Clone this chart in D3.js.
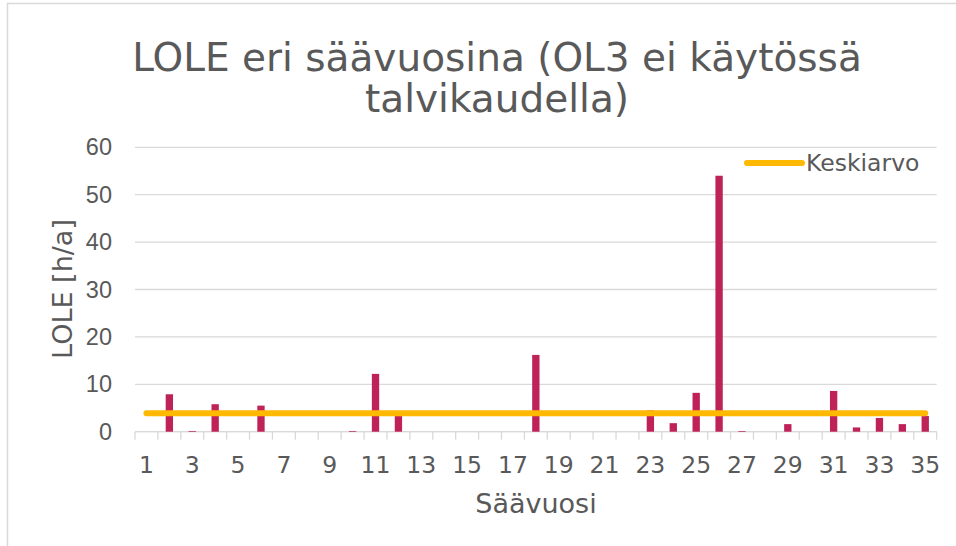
<!DOCTYPE html>
<html>
<head>
<meta charset="utf-8">
<script src="https://cdn.jsdelivr.net/npm/d3@7"></script>
<style>
  body { margin: 0; background: #fff; }
  svg { display: block; font-family: 'DejaVu Sans', Verdana, sans-serif; }
  .axis text { fill: #595959; font-size: 23.5px; }
  .grid line { stroke: #d9d9d9; stroke-width: 1.3px; }
</style>
</head>
<body>
<div id="chart"></div>
<script>
// LOLE per weather year (h/a)
const years = d3.range(1, 36);
const lole = [0, 7.9, 0.15, 5.8, 0, 5.5, 0, 0, 0, 0.15,
              12.2, 3.3, 0, 0, 0, 0, 0, 16.2, 0, 0,
              0, 0, 4.5, 1.8, 8.2, 54.0, 0.15, 0, 1.6, 0,
              8.6, 0.9, 2.9, 1.6, 3.3];
const keskiarvo = 3.9;
const yTicks = [0, 10, 20, 30, 40, 50, 60];
const xTickLabels = years.filter(d => d % 2 === 1);

const width = 956, height = 546;
const plot = { left: 135, right: 936.7, top: 147.3, bottom: 431.7 };

const svg = d3.select("#chart").append("svg")
  .attr("width", width)
  .attr("height", height);

// chart border (partially cropped)
svg.append("path")
  .attr("d", `M7.5,${height} V3.5 H${width}`)
  .attr("fill", "none")
  .attr("stroke", "#d9d9d9")
  .attr("stroke-width", 1.5);

const x = d3.scaleBand()
  .domain(years)
  .range([plot.left, plot.right])
  .paddingInner(0.68)
  .paddingOuter(0.34);

const y = d3.scaleLinear()
  .domain([0, 60])
  .range([plot.bottom, plot.top]);

// gridlines
svg.append("g")
  .attr("class", "grid")
  .selectAll("line")
  .data(yTicks)
  .join("line")
  .attr("x1", plot.left)
  .attr("x2", plot.right)
  .attr("y1", d => y(d))
  .attr("y2", d => y(d));

// y axis labels
const yAxis = svg.append("g")
  .attr("class", "axis")
  .attr("transform", `translate(${plot.left},0)`)
  .call(d3.axisLeft(y).tickValues(yTicks).tickSize(0).tickPadding(23));
yAxis.select(".domain").remove();

// x axis: ticks on category boundaries
const step = x.step();
const xAxis = svg.append("g")
  .attr("class", "axis")
  .attr("transform", `translate(0,${plot.bottom})`);
xAxis.append("line")
  .attr("x1", plot.left).attr("x2", plot.right)
  .attr("stroke", "#d9d9d9").attr("stroke-width", 1.3);
xAxis.selectAll(".tickmark")
  .data(years.concat([36]))
  .join("line")
  .attr("class", "tickmark")
  .attr("x1", d => plot.left + (d - 1) * step)
  .attr("x2", d => plot.left + (d - 1) * step)
  .attr("y1", 0).attr("y2", 8)
  .attr("stroke", "#d9d9d9").attr("stroke-width", 1.3);
xAxis.selectAll(".lbl")
  .data(xTickLabels)
  .join("text")
  .attr("class", "lbl")
  .attr("x", d => x(d) + x.bandwidth() / 2)
  .attr("y", 41)
  .attr("text-anchor", "middle")
  .text(d => d);

// bars
svg.append("g")
  .selectAll("rect")
  .data(lole)
  .join("rect")
  .attr("x", (d, i) => x(years[i]))
  .attr("width", x.bandwidth())
  .attr("y", d => y(d))
  .attr("height", d => y(0) - y(d))
  .attr("fill", "#be2258");

// mean line
svg.append("line")
  .attr("x1", x(years[0]) + x.bandwidth() / 2)
  .attr("x2", x(years[years.length - 1]) + x.bandwidth() / 2)
  .attr("y1", y(keskiarvo))
  .attr("y2", y(keskiarvo))
  .attr("stroke", "#ffb900")
  .attr("stroke-width", 6)
  .attr("stroke-linecap", "round");

// legend
const legend = svg.append("g").attr("transform", "translate(747,163)");
legend.append("line")
  .attr("x1", 0).attr("x2", 55)
  .attr("stroke", "#ffb900")
  .attr("stroke-width", 6)
  .attr("stroke-linecap", "round");
legend.append("text")
  .attr("x", 59)
  .attr("y", 8)
  .attr("fill", "#595959")
  .attr("font-size", 23.5)
  .text("Keskiarvo");

// title
const title = svg.append("text")
  .attr("text-anchor", "middle")
  .attr("fill", "#595959")
  .attr("font-size", 39);
title.append("tspan").attr("x", 497).attr("y", 71).text("LOLE eri säävuosina (OL3 ei käytössä");
title.append("tspan").attr("x", 497).attr("y", 112).text("talvikaudella)");

// axis titles
svg.append("text")
  .attr("transform", `translate(72,289) rotate(-90)`)
  .attr("text-anchor", "middle")
  .attr("fill", "#595959")
  .attr("font-size", 27)
  .text("LOLE [h/a]");

svg.append("text")
  .attr("x", 536)
  .attr("y", 513)
  .attr("text-anchor", "middle")
  .attr("fill", "#595959")
  .attr("font-size", 27)
  .text("Säävuosi");
</script>
</body>
</html>
